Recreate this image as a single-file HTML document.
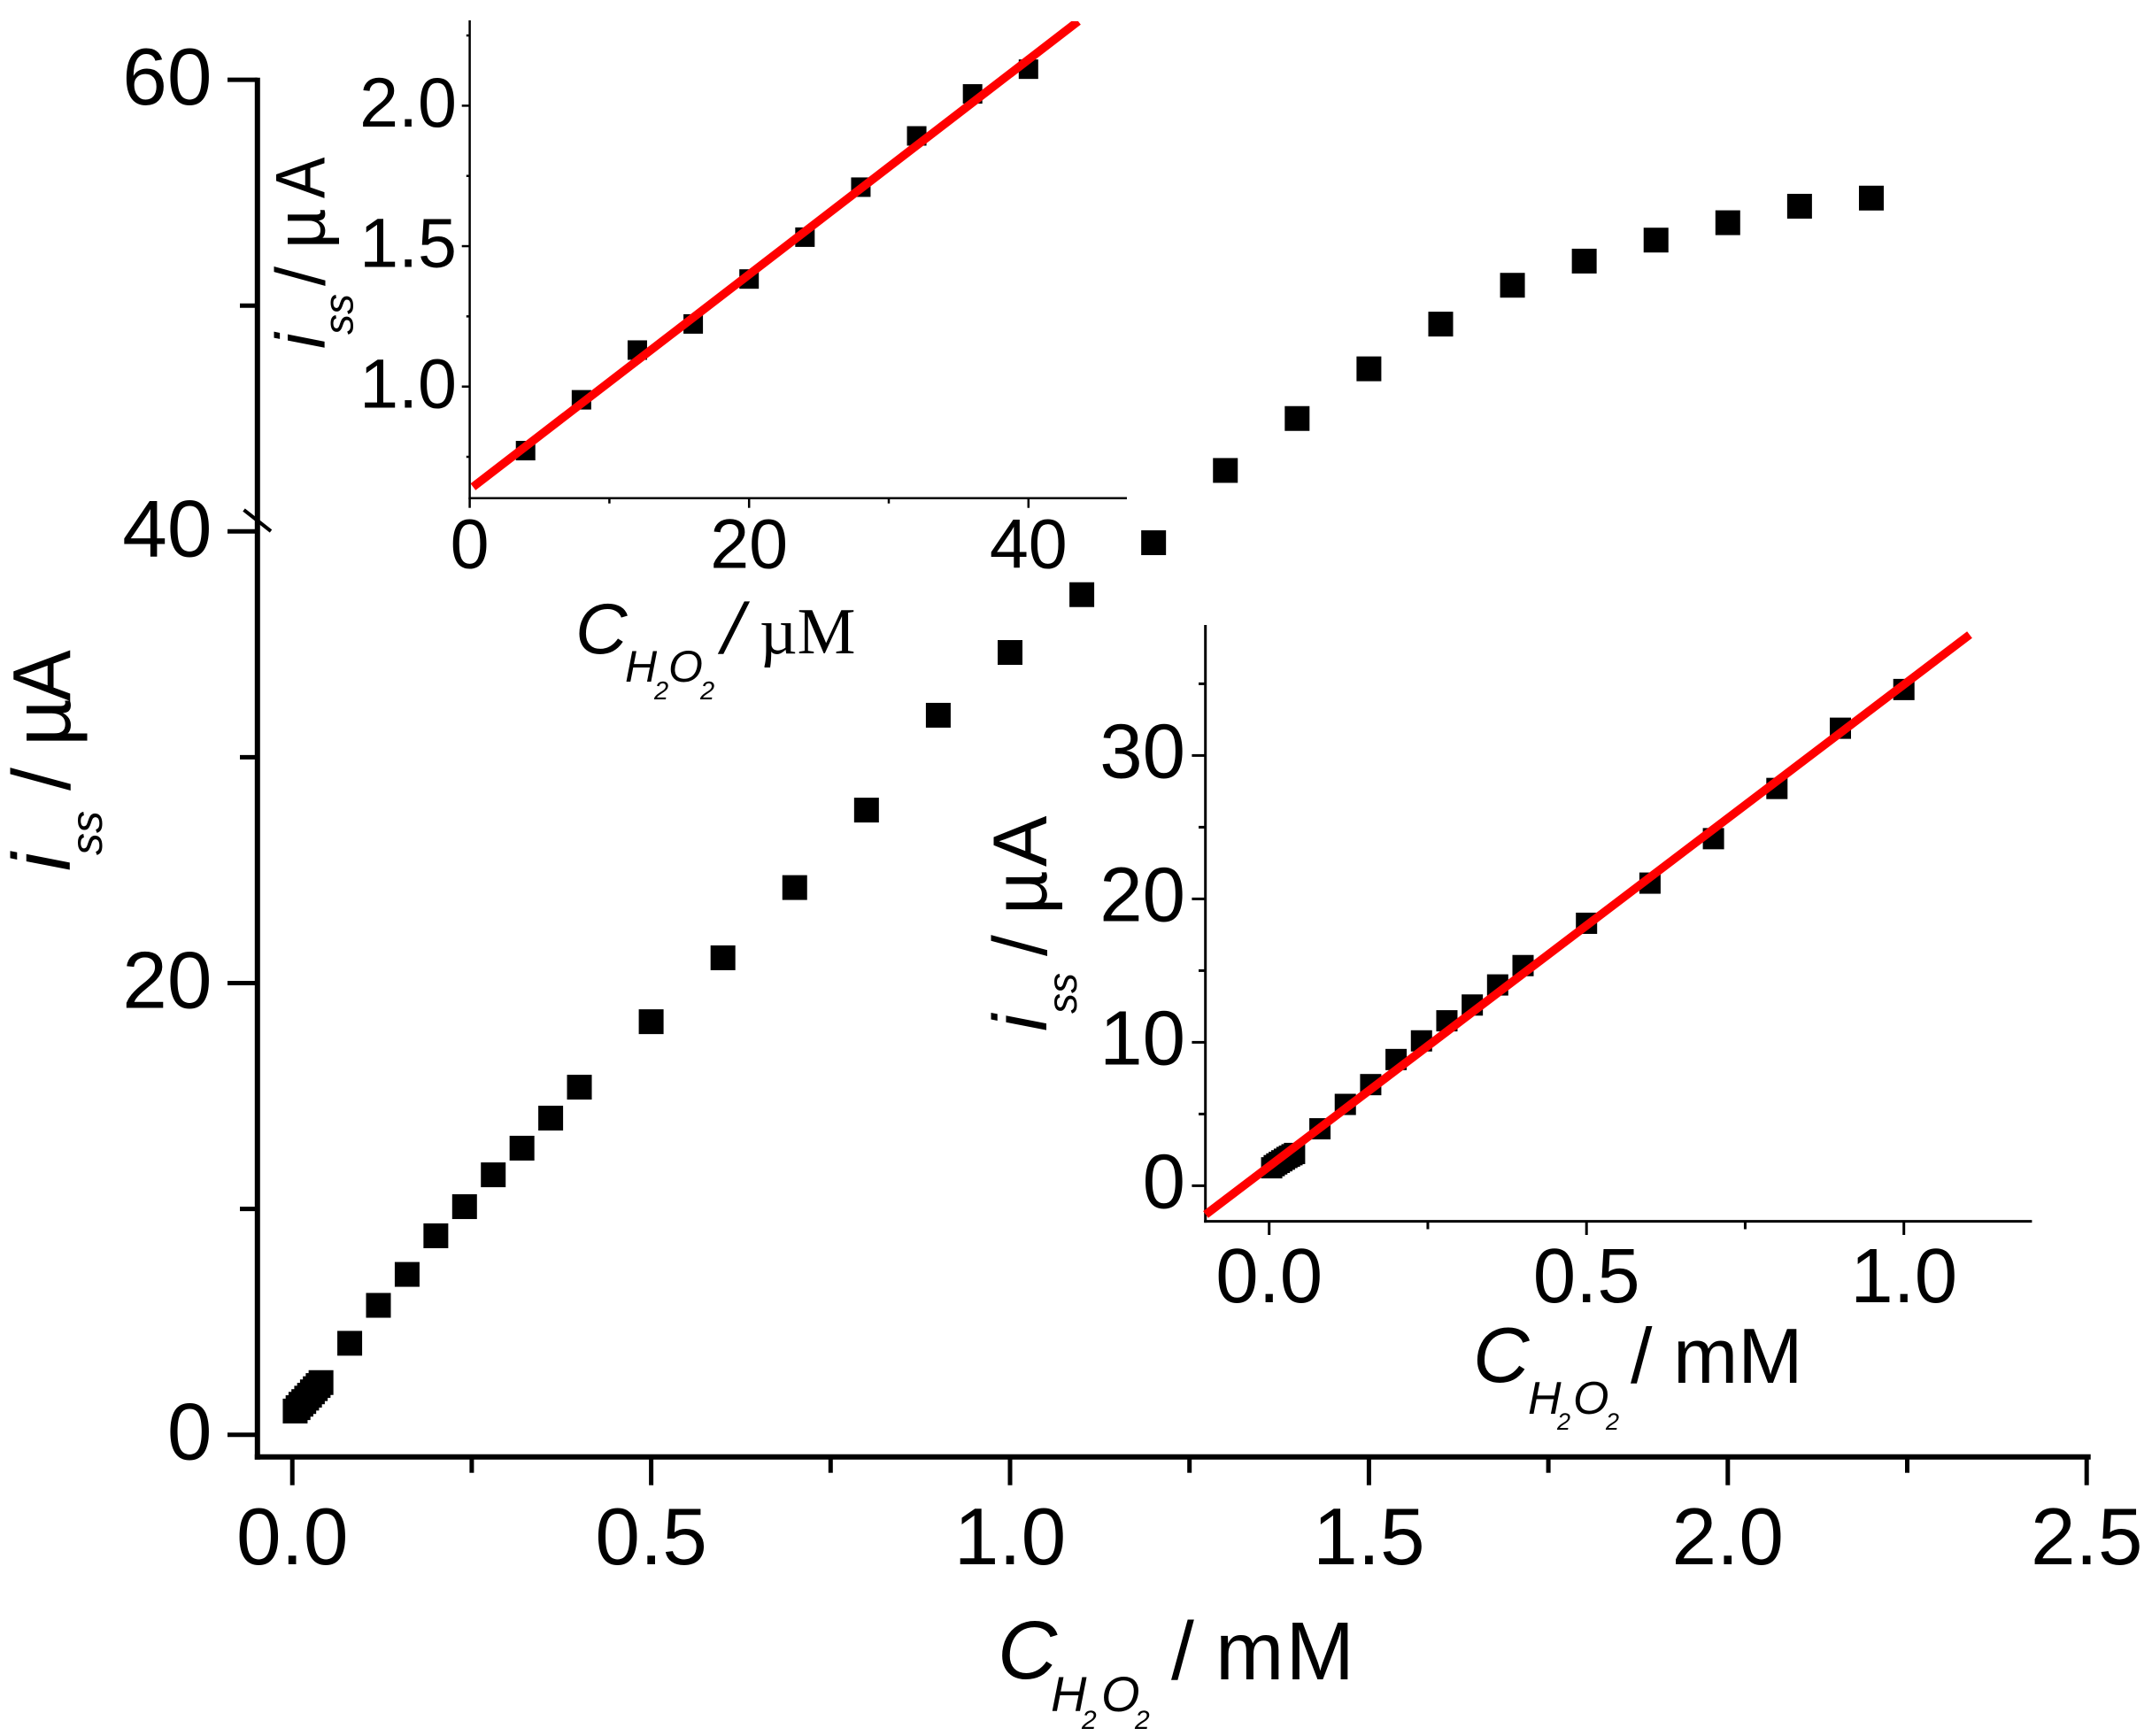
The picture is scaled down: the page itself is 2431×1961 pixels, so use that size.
<!DOCTYPE html>
<html lang="en">
<head>
<meta charset="utf-8">
<title>Steady-state current vs H2O2 concentration</title>
<style>
  html, body { margin: 0; padding: 0; background: #fff; }
  svg { display: block; }
  text { font-family: "Liberation Sans", sans-serif; fill: #000; }
  .it { font-style: italic; }
  .serif { font-family: "Liberation Serif", serif; }
</style>
</head>
<body>
<svg id="chart" xmlns="http://www.w3.org/2000/svg" width="2431" height="1961" viewBox="0 0 2431 1961">
  <rect x="0" y="0" width="2431" height="1961" fill="#fff"/>
  <defs>
    <clipPath id="inset1-clip"><rect x="530" y="24" width="760" height="540"/></clipPath>
  </defs>

  <g id="main-plot"></g>
  <g id="inset1-plot"></g>
  <g id="inset2-plot"></g>

  <line x1="275.5" y1="576" x2="306" y2="600" stroke="#000" stroke-width="4"/>

  <!-- main y title -->
  <g>
    <text class="it" font-size="93" transform="translate(79,984) rotate(-90)">i</text>
    <text class="it" font-size="50" transform="translate(115,966) rotate(-90)">ss</text>
    <text font-size="93" transform="translate(79,893) rotate(-90)">/</text>
    <text font-size="93" transform="translate(79,843) rotate(-90)">µ</text>
    <text font-size="93" transform="translate(79,792) rotate(-90) scale(0.93,1)">A</text>
  </g>
  <!-- main x title -->
  <g>
    <text class="it" font-size="93" x="1127" y="1896">C</text>
    <text class="it" font-size="56" x="1187" y="1933">H</text>
    <text class="it" font-size="30" x="1222" y="1953">2</text>
    <text class="it" font-size="56" x="1244" y="1933">O</text>
    <text class="it" font-size="30" x="1282" y="1953">2</text>
    <text font-size="93" x="1323" y="1897">/</text>
    <text font-size="93" x="1373" y="1897" letter-spacing="2">mM</text>
  </g>

  <!-- inset 1 titles -->
  <g>
    <text class="it" font-size="79" transform="translate(366.7,394) rotate(-90)">i</text>
    <text class="it" font-size="46" transform="translate(398.6,378) rotate(-90)">ss</text>
    <text font-size="79" transform="translate(366.7,323) rotate(-90)">/</text>
    <text font-size="79" transform="translate(366.7,281) rotate(-90)">µ</text>
    <text font-size="79" transform="translate(366.7,224) rotate(-90) scale(0.88,1)">A</text>
  </g>
  <g>
    <text class="it" font-size="81" x="650" y="738">C</text>
    <text class="it" font-size="50" x="706" y="770">H</text>
    <text class="it" font-size="29" x="739" y="790">2</text>
    <text class="it" font-size="50" x="755" y="770">O</text>
    <text class="it" font-size="29" x="791" y="790">2</text>
    <text font-size="81" transform="translate(811,738) skewX(-13)">/</text>
    <text class="serif" font-size="74" x="858" y="738">µM</text>
  </g>

  <!-- inset 2 titles -->
  <g>
    <text class="it" font-size="86" transform="translate(1182,1165) rotate(-90)">i</text>
    <text class="it" font-size="46" transform="translate(1216,1145) rotate(-90)">ss</text>
    <text font-size="86" transform="translate(1182,1080) rotate(-90)">/</text>
    <text font-size="86" transform="translate(1182,1033) rotate(-90)">µ</text>
    <text font-size="86" transform="translate(1182,979) rotate(-90)">A</text>
  </g>
  <g>
    <text class="it" font-size="88" x="1664" y="1561">C</text>
    <text class="it" font-size="52" x="1726" y="1597">H</text>
    <text class="it" font-size="27" x="1759" y="1615">2</text>
    <text class="it" font-size="52" x="1777" y="1597">O</text>
    <text class="it" font-size="27" x="1814" y="1615">2</text>
    <text font-size="88" x="1842" y="1562">/</text>
    <text font-size="88" x="1890" y="1562">mM</text>
  </g>
</svg>

<script>
// ---------- main plot data ----------
const mainConc = [0.004,0.008,0.012,0.016,0.02,0.024,0.028,0.032,0.036,0.04,0.08,0.12,0.16,0.2,0.24,0.28,0.32,0.36,0.4,0.5,0.6,0.7,0.8,0.9,1.0,1.1,1.2,1.3,1.4,1.5,1.6,1.7,1.8,1.9,2.0,2.1,2.2];
const mainCurrent = [1.05,1.2,1.35,1.47,1.62,1.75,1.9,2.04,2.18,2.31,4.05,5.73,7.1,8.81,10.1,11.51,12.69,14.02,15.39,18.29,21.12,24.23,27.66,31.86,34.64,37.2,39.5,42.7,45.0,47.2,49.18,50.9,51.97,52.9,53.67,54.4,54.76];
const mainXMajor = [0,0.5,1.0,1.5,2.0,2.5];
const mainXMajorLabels = ['0.0','0.5','1.0','1.5','2.0','2.5'];
const mainXMinor = [0.25,0.75,1.25,1.75,2.25];
const mainYMajor = [0,20,40,60];
const mainYMajorLabels = ['0','20','40','60'];
const mainYMinor = [10,30,50];

// ---------- low-range inset data (µM) ----------
const lowConc = [4,8,12,16,20,24,28,32,36,40];
const lowCurrent = [0.772,0.953,1.13,1.223,1.383,1.532,1.71,1.8925,2.042,2.13];
const lowFitX = [0.24,43.56];
const lowFitY = [0.643,2.3006];
const lowXMajor = [0,20,40];
const lowXMajorLabels = ['0','20','40'];
const lowXMinor = [10,30];
const lowYMajor = [1.0,1.5,2.0];
const lowYMajorLabels = ['1.0','1.5','2.0'];
const lowYMinor = [0.75,1.25,1.75,2.25];

// ---------- mid-range inset data (mM) ----------
const midConc = [0.004,0.008,0.012,0.016,0.02,0.024,0.028,0.032,0.036,0.04,0.08,0.12,0.16,0.2,0.24,0.28,0.32,0.36,0.4,0.5,0.6,0.7,0.8,0.9,1.0];
const midCurrent = [1.25,1.4,1.52,1.63,1.74,1.85,1.97,2.06,2.16,2.25,3.97,5.67,7.05,8.8,10.1,11.5,12.6,14.0,15.35,18.3,21.1,24.2,27.7,31.9,34.6];
const midFitX = [-0.1,1.1036];
const midFitY = [-2.01,38.42];
const midXMajor = [0,0.5,1.0];
const midXMajorLabels = ['0.0','0.5','1.0'];
const midXMinor = [0.25,0.75];
const midYMajor = [0,10,20,30];
const midYMajorLabels = ['0','10','20','30'];
const midYMinor = [5,15,25,35];

// ---------- axis functions ----------
const mainX = v => 330.2 + 810.8 * v;
const mainY = v => 1620.7 - 25.51 * v;
const lowX = v => 530.6 + 15.78 * v;
const lowY = v => 436.7 - 317.3 * (v - 1);
const midX = v => 1433.7 + 717 * v;
const midY = v => 1339.4 - 16.2 * v;

const NS = 'http://www.w3.org/2000/svg';
function mk(tag, parent) {
  const el = document.createElementNS(NS, tag);
  parent.appendChild(el);
  return el;
}
function setLine(el, x1, y1, x2, y2, w, color) {
  el.setAttribute('x1', x1);
  el.setAttribute('y1', y1);
  el.setAttribute('x2', x2);
  el.setAttribute('y2', y2);
  el.setAttribute('stroke', color);
  el.setAttribute('stroke-width', w);
}

function drawPlot(g, o) {
  // points
  o.xs.forEach((v, i) => {
    const r = mk('rect', g);
    
    
    r.setAttribute('x', o.fx(v) - o.size / 2);
    r.setAttribute('y', o.fy(o.ys[i]) - o.size / 2);
    r.setAttribute('width', o.size);
    r.setAttribute('height', o.size);
    r.setAttribute('fill', '#000');
  });
  // y axis line
  const ya = mk('line', g);
  
  
  setLine(ya, o.axisX, o.axisTop, o.axisX, o.axisY + o.w / 2, o.w, '#000');
  // x axis line
  const xa = mk('line', g);
  
  
  setLine(xa, o.axisX - o.w / 2, o.axisY, o.axisRight, o.axisY, o.w, '#000');
  // x ticks
  o.xMajor.forEach((v, i) => {
    const t = mk('line', g);
    
    
    setLine(t, o.fx(v), o.axisY, o.fx(v), o.xMajorEnd, o.tw, '#000');
    const l = mk('text', g);
    
    
    l.setAttribute('x', o.fx(v));
    l.setAttribute('y', o.xLabelY);
    l.setAttribute('text-anchor', 'middle');
    l.setAttribute('font-size', o.font);
    l.textContent = o.xLabels[i];
  });
  o.xMinor.forEach(v => {
    const t = mk('line', g);
    
    
    setLine(t, o.fx(v), o.axisY, o.fx(v), o.xMinorEnd, o.tw, '#000');
  });
  // y ticks
  o.yMajor.forEach((v, i) => {
    const t = mk('line', g);
    
    
    setLine(t, o.yMajorEnd, o.fy(v), o.axisX, o.fy(v), o.tw, '#000');
    const l = mk('text', g);
    
    
    l.setAttribute('x', o.yLabelX);
    l.setAttribute('y', o.fy(v) + o.yLabelDy);
    l.setAttribute('text-anchor', 'end');
    l.setAttribute('font-size', o.font);
    l.textContent = o.yLabels[i];
  });
  o.yMinor.forEach(v => {
    const t = mk('line', g);
    
    
    setLine(t, o.yMinorEnd, o.fy(v), o.axisX, o.fy(v), o.tw, '#000');
  });
  // fit line
  if (o.fitX) {
    const f = mk('line', g);
    
    
    setLine(f, o.fx(o.fitX[0]), o.fy(o.fitY[0]), o.fx(o.fitX[1]), o.fy(o.fitY[1]), 9.5, '#ff0000');
    if (o.clip) f.setAttribute('clip-path', o.clip);
  }
}

drawPlot(document.getElementById('main-plot'), {
  xs: mainConc, ys: mainCurrent, fx: mainX, fy: mainY, size: 28,
  axisX: 290.8, axisTop: 87.8, axisY: 1645.8, axisRight: 2361.7, w: 6, tw: 5,
  xMajor: mainXMajor, xLabels: mainXMajorLabels, xMinor: mainXMinor,
  xMajorEnd: 1677.7, xMinorEnd: 1663.7, xLabelY: 1767, font: 91,
  yMajor: mainYMajor, yLabels: mainYMajorLabels, yMinor: mainYMinor,
  yMajorEnd: 257, yMinorEnd: 271, yLabelX: 239.5, yLabelDy: 28
});

drawPlot(document.getElementById('inset1-plot'), {
  xs: lowConc, ys: lowCurrent, fx: lowX, fy: lowY, size: 22,
  axisX: 530.6, axisTop: 23, axisY: 562.8, axisRight: 1273, w: 2.5, tw: 2.5,
  xMajor: lowXMajor, xLabels: lowXMajorLabels, xMinor: lowXMinor,
  xMajorEnd: 573.7, xMinorEnd: 568.7, xLabelY: 641.5, font: 79,
  yMajor: lowYMajor, yLabels: lowYMajorLabels, yMinor: lowYMinor,
  yMajorEnd: 521.7, yMinorEnd: 526.8, yLabelX: 516, yLabelDy: 23.6,
  fitX: lowFitX, fitY: lowFitY, clip: 'url(#inset1-clip)'
});

drawPlot(document.getElementById('inset2-plot'), {
  xs: midConc, ys: midCurrent, fx: midX, fy: midY, size: 24,
  axisX: 1361.7, axisTop: 706, axisY: 1379.6, axisRight: 2295.4, w: 3, tw: 3,
  xMajor: midXMajor, xLabels: midXMajorLabels, xMinor: midXMinor,
  xMajorEnd: 1395, xMinorEnd: 1388.5, xLabelY: 1471, font: 87,
  yMajor: midYMajor, yLabels: midYMajorLabels, yMinor: midYMinor,
  yMajorEnd: 1346.4, yMinorEnd: 1354, yLabelX: 1339, yLabelDy: 25,
  fitX: midFitX, fitY: midFitY
});
</script>
</body>
</html>
